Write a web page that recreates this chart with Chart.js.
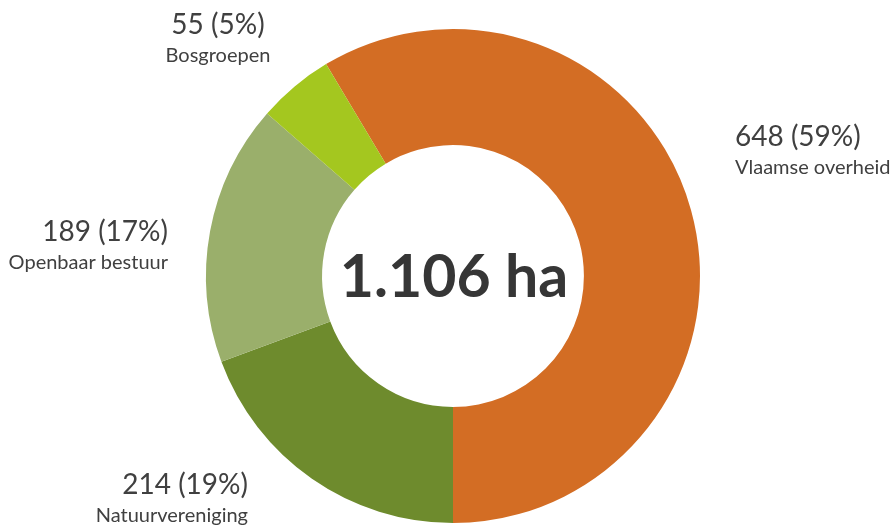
<!DOCTYPE html>
<html>
<head>
<meta charset="utf-8">
<script src="https://cdn.jsdelivr.net/npm/chart.js@4"></script>
<style>
  body { margin: 0; background: #fff; }
  #wrap { width: 893px; height: 526px; position: relative; }
</style>
</head>
<body>
<div id="wrap"><canvas id="grafiek"></canvas></div>
<script>
// oppervlakte bos per eigenaar (ha)
const eigenaars = ['Vlaamse overheid', 'Natuurvereniging', 'Openbaar bestuur', 'Bosgroepen'];
const oppervlakte = [648, 214, 189, 55];
const kleuren = ['#D36D24', '#6E8B2D', '#9AAF6B', '#A4C71F'];

const totaal = oppervlakte.reduce((a, b) => a + b, 0);

function formatNL(n) {
  return String(n).replace(/\B(?=(\d{3})+(?!\d))/g, '.');
}

// plaats van de labels t.o.v. het midden van de donut
const labelPlaats = [
  { dx: 282, dy: -139, align: 'left' },
  { dx: -205, dy: 209, align: 'right' },
  { dx: -285, dy: -44, align: 'right' },
  { dx: -235, dy: -251, align: 'center' }
];

const labelsPlugin = {
  id: 'labels',
  afterDraw(chart) {
    const ctx = chart.ctx;
    const arc = chart.getDatasetMeta(0).data[0];
    const cx = arc.x, cy = arc.y;
    ctx.save();
    ctx.textBaseline = 'middle';

    // totaal in het midden
    ctx.fillStyle = '#363636';
    ctx.textAlign = 'center';
    ctx.font = 'bold 59px Lato';
    ctx.fillText(formatNL(totaal) + ' ha', cx + 1, cy + 2);

    oppervlakte.forEach((v, i) => {
      const p = labelPlaats[i];
      const pct = Math.round(v / totaal * 100);
      ctx.fillStyle = '#404040';
      ctx.textAlign = p.align;
      ctx.font = '28px Lato';
      ctx.fillText(v + ' (' + pct + '%)', cx + p.dx, cy + p.dy);
      ctx.font = '20px Lato';
      ctx.fillText(eigenaars[i], cx + p.dx, cy + p.dy + 31);
    });
    ctx.restore();
  }
};

new Chart(document.getElementById('grafiek'), {
  type: 'doughnut',
  data: {
    labels: eigenaars,
    datasets: [{
      data: oppervlakte,
      backgroundColor: kleuren,
      borderWidth: 0
    }]
  },
  options: {
    responsive: true,
    maintainAspectRatio: false,
    animation: false,
    cutout: '53%',
    rotation: 180 - oppervlakte[0] / totaal * 360,
    layout: { padding: { top: 29, bottom: 3, left: 13, right: 0 } },
    plugins: {
      legend: { display: false },
      tooltip: { enabled: false }
    }
  },
  plugins: [labelsPlugin]
});
</script>
</body>
</html>
